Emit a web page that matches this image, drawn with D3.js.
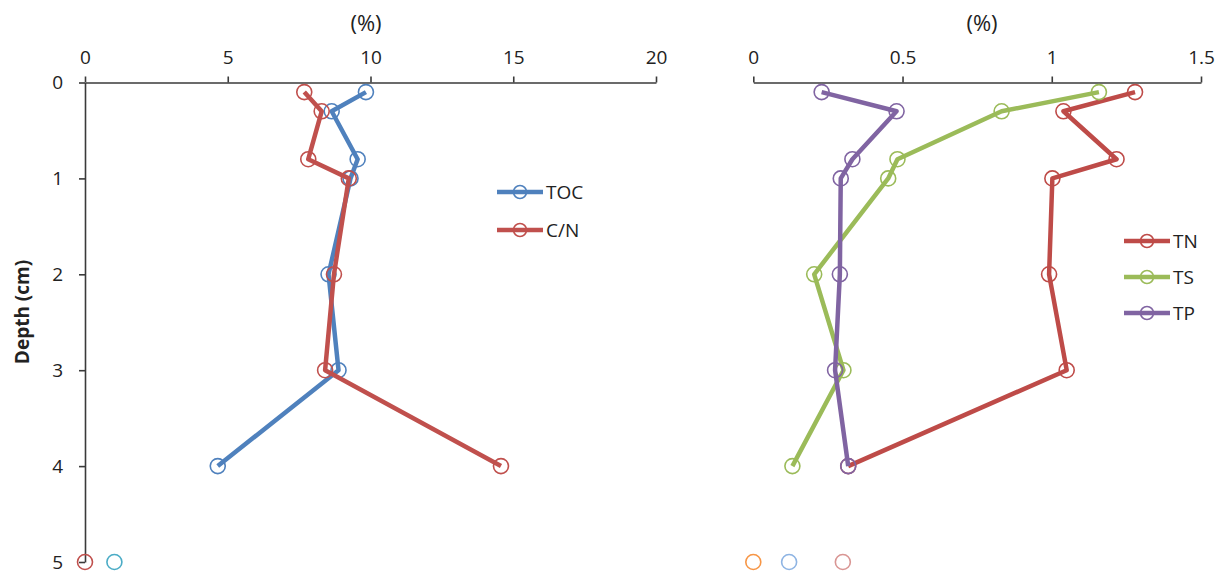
<!DOCTYPE html>
<html>
<head>
<meta charset="utf-8">
<script src="https://cdn.jsdelivr.net/npm/d3@7"></script>
<style>
  body { margin: 0; background: #fff; }
  svg text { font-family: "Open Sans", "Noto Sans", sans-serif; fill: #222; }
</style>
</head>
<body>
<div id="chart"></div>
<script>
// depth (cm)
const depths = [0.1, 0.3, 0.8, 1.0, 2.0, 3.0, 4.0];

// left panel
const tocValues = [9.84, 8.64, 9.55, 9.3, 8.53, 8.88, 4.65];
const cnValues = [7.68, 8.29, 7.82, 9.24, 8.72, 8.41, 14.57];
const leftTicks = [0, 5, 10, 15, 20];
const depthTicks = [0, 1, 2, 3, 4, 5];

// right panel
const tnValues = [1.279, 1.039, 1.217, 1.002, 0.991, 1.050, 0.318];
const tsValues = [1.158, 0.832, 0.483, 0.452, 0.204, 0.302, 0.131];
const tpValues = [0.229, 0.480, 0.332, 0.293, 0.290, 0.274, 0.318];
const rightTicks = [0, 0.5, 1, 1.5];

// lone markers sitting on the 5 cm line
const leftStray = [{ v: 0, c: '#C0504D' }, { v: 1.03, c: '#4BACC6' }];
const rightStray = [{ v: 0, c: '#F79646' }, { v: 0.12, c: '#8EB4E3' }, { v: 0.30, c: '#D99694' }];

const width = 1226;
const height = 574;

const svg = d3.select('#chart')
    .append('svg')
    .attr('width', width)
    .attr('height', height);

const yScale = d3.scaleLinear().domain([0, 5]).range([82.5, 562]);
const xLeft = d3.scaleLinear().domain([0, 20]).range([85, 656]);
const xRight = d3.scaleLinear().domain([0, 1.5]).range([753.3, 1201]);

function styleAxis(g) {
    g.select('.domain').attr('stroke', '#3a3a3a').attr('stroke-width', 1.6);
    g.selectAll('.tick line').attr('stroke', '#3a3a3a').attr('stroke-width', 1.6);
    g.selectAll('.tick text').style('font-size', '19px').attr('fill', '#222');
}

/* top axes */
svg.append('g')
    .attr('transform', `translate(0,${yScale(0)})`)
    .call(d3.axisTop(xLeft).tickValues(leftTicks).tickSize(6).tickSizeOuter(0).tickPadding(13).tickFormat(d3.format('')))
    .call(styleAxis);

svg.append('g')
    .attr('transform', `translate(0,${yScale(0)})`)
    .call(d3.axisTop(xRight).tickValues(rightTicks).tickSize(6).tickSizeOuter(0).tickPadding(13).tickFormat(d3.format('')))
    .call(styleAxis);

/* depth axis */
svg.append('g')
    .attr('transform', `translate(${xLeft(0)},0)`)
    .call(d3.axisLeft(yScale).tickValues(depthTicks).tickSize(6).tickSizeOuter(0).tickPadding(16).tickFormat(d3.format('')))
    .call(styleAxis);

/* titles */
svg.append('text').text('(%)')
    .attr('x', 366).attr('y', 31)
    .attr('text-anchor', 'middle').style('font-size', '22px');
svg.append('text').text('(%)')
    .attr('x', 982).attr('y', 31)
    .attr('text-anchor', 'middle').style('font-size', '22px');
svg.append('text').text('Depth (cm)')
    .attr('transform', 'translate(29,312) rotate(-90)')
    .attr('text-anchor', 'middle')
    .style('font-size', '19px')
    .style('font-weight', 'bold');

function drawSeries(values, x, color) {
    const pts = values.map((v, i) => [v, depths[i]]);
    const line = d3.line().x(d => x(d[0])).y(d => yScale(d[1]));
    svg.append('path')
        .datum(pts)
        .attr('fill', 'none')
        .attr('stroke', color)
        .attr('stroke-width', 4.5)
        .attr('stroke-linejoin', 'round')
        .attr('d', line);
    svg.append('g').selectAll('circle')
        .data(pts)
        .enter()
        .append('circle')
        .attr('cx', d => x(d[0]))
        .attr('cy', d => yScale(d[1]))
        .attr('r', 7.5)
        .attr('fill', 'none')
        .attr('stroke', color)
        .attr('stroke-width', 1.6);
}

drawSeries(tocValues, xLeft, '#4F81BD');
drawSeries(cnValues, xLeft, '#C0504D');
drawSeries(tnValues, xRight, '#BE4B48');
drawSeries(tsValues, xRight, '#9BBB59');
drawSeries(tpValues, xRight, '#8064A2');

function drawStray(list, x) {
    svg.append('g').selectAll('circle')
        .data(list)
        .enter()
        .append('circle')
        .attr('cx', d => x(d.v))
        .attr('cy', yScale(5))
        .attr('r', 7.5)
        .attr('fill', 'none')
        .attr('stroke', d => d.c)
        .attr('stroke-width', 1.6);
}
drawStray(leftStray, xLeft);
drawStray(rightStray, xRight);

/* legends */
function legend(items, x0, y0, gap) {
    items.forEach((it, i) => {
        const y = y0 + i * gap;
        svg.append('line')
            .attr('x1', x0).attr('x2', x0 + 46)
            .attr('y1', y).attr('y2', y)
            .attr('stroke', it.c).attr('stroke-width', 4.5);
        svg.append('circle')
            .attr('cx', x0 + 23).attr('cy', y).attr('r', 6.5)
            .attr('fill', 'none').attr('stroke', it.c).attr('stroke-width', 1.6);
        svg.append('text').text(it.name)
            .attr('x', x0 + 49).attr('y', y + 7)
            .style('font-size', '19px');
    });
}
legend([{ name: 'TOC', c: '#4F81BD' }, { name: 'C/N', c: '#C0504D' }], 497, 192, 38);
legend([{ name: 'TN', c: '#BE4B48' }, { name: 'TS', c: '#9BBB59' }, { name: 'TP', c: '#8064A2' }], 1124, 241, 36);
</script>
</body>
</html>
